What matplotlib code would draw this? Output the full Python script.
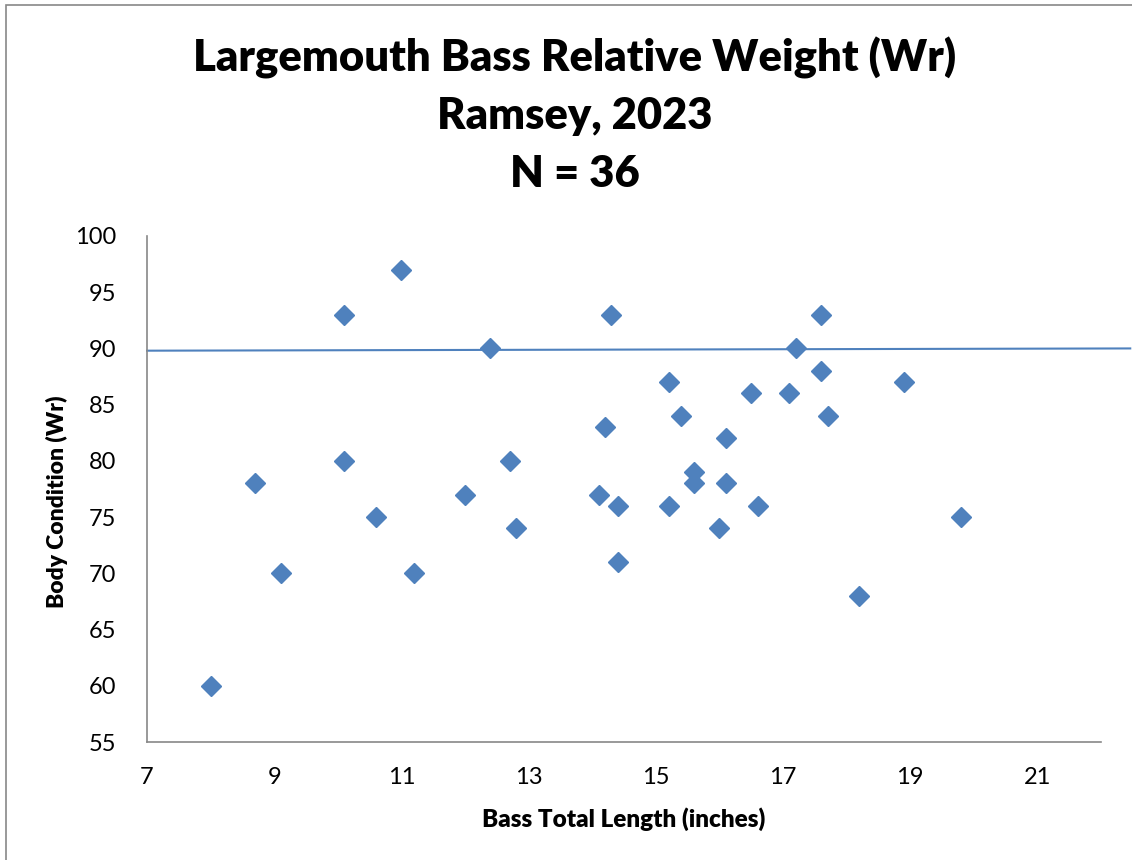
import matplotlib.pyplot as plt
from matplotlib.patches import Rectangle

# Bass total length (inches) and relative weight (Wr)
length = [8.0, 8.7, 9.1, 10.1, 10.1, 10.6, 11.0, 11.2, 12.0, 12.4, 12.7, 12.8,
          14.1, 14.2, 14.3, 14.4, 14.4, 15.2, 15.2, 15.4, 15.6, 15.6, 16.0, 16.1,
          16.1, 16.5, 16.6, 17.1, 17.2, 17.6, 17.6, 17.7, 18.2, 18.9, 19.8]
wr = [60, 78, 70, 93, 80, 75, 97, 70, 77, 90, 80, 74,
      77, 83, 93, 76, 71, 87, 76, 84, 79, 78, 74, 82,
      78, 86, 76, 86, 90, 93, 88, 84, 68, 87, 75]

# reference line (drawn as a shape, runs past the plot area)
ref_x = [7, 22.46]
ref_y = [89.8, 90.0]

x_ticks = [7, 9, 11, 13, 15, 17, 19, 21]
y_ticks = [55, 60, 65, 70, 75, 80, 85, 90, 95, 100]

plt.rcParams['font.family'] = ['Lato', 'DejaVu Sans']

fig = plt.figure(figsize=(11.32, 8.6), dpi=100)
ax = fig.add_axes([0.1299, 0.1372, 0.8427, 0.5884])

blue = '#4F81BD'
ax.plot(length, wr, linestyle='none', marker='D', markersize=10,
        color=blue, markeredgecolor=blue, zorder=3)
ax.plot(ref_x, ref_y, color=blue, linewidth=1.5, clip_on=False, zorder=2)

ax.set_xlim(7, 22)
ax.set_ylim(55, 100)
ax.set_xticks(x_ticks)
ax.set_yticks(y_ticks)
ax.tick_params(length=0, labelsize=17, pad=18)
ax.tick_params(axis='y', pad=22)

for side in ['top', 'right']:
    ax.spines[side].set_visible(False)
for side in ['left', 'bottom']:
    ax.spines[side].set_color('#888888')
    ax.spines[side].set_linewidth(1.2)

ax.set_xlabel('Bass Total Length (inches)', fontsize=17.5, fontweight='heavy', labelpad=14)
ax.set_ylabel('Body Condition (Wr)', fontsize=16.5, fontweight='heavy')
ax.yaxis.set_label_coords(-0.083, 0.475)

title_lines = ['Largemouth Bass Relative Weight (Wr)', 'Ramsey, 2023', 'N = 36']
for i, line in enumerate(title_lines):
    fig.text(0.508, 1 - (58 + 58 * i) / 860, line, ha='center', va='center',
             fontsize=31.3, fontweight='heavy')

# outer chart border
fig.patches.append(Rectangle((6 / 1132, -0.01), 1.1, 1 - 5 / 860 + 0.01,
                             transform=fig.transFigure, fill=False,
                             edgecolor='#888888', linewidth=1.2))

fig.savefig('out.png', dpi=100)
